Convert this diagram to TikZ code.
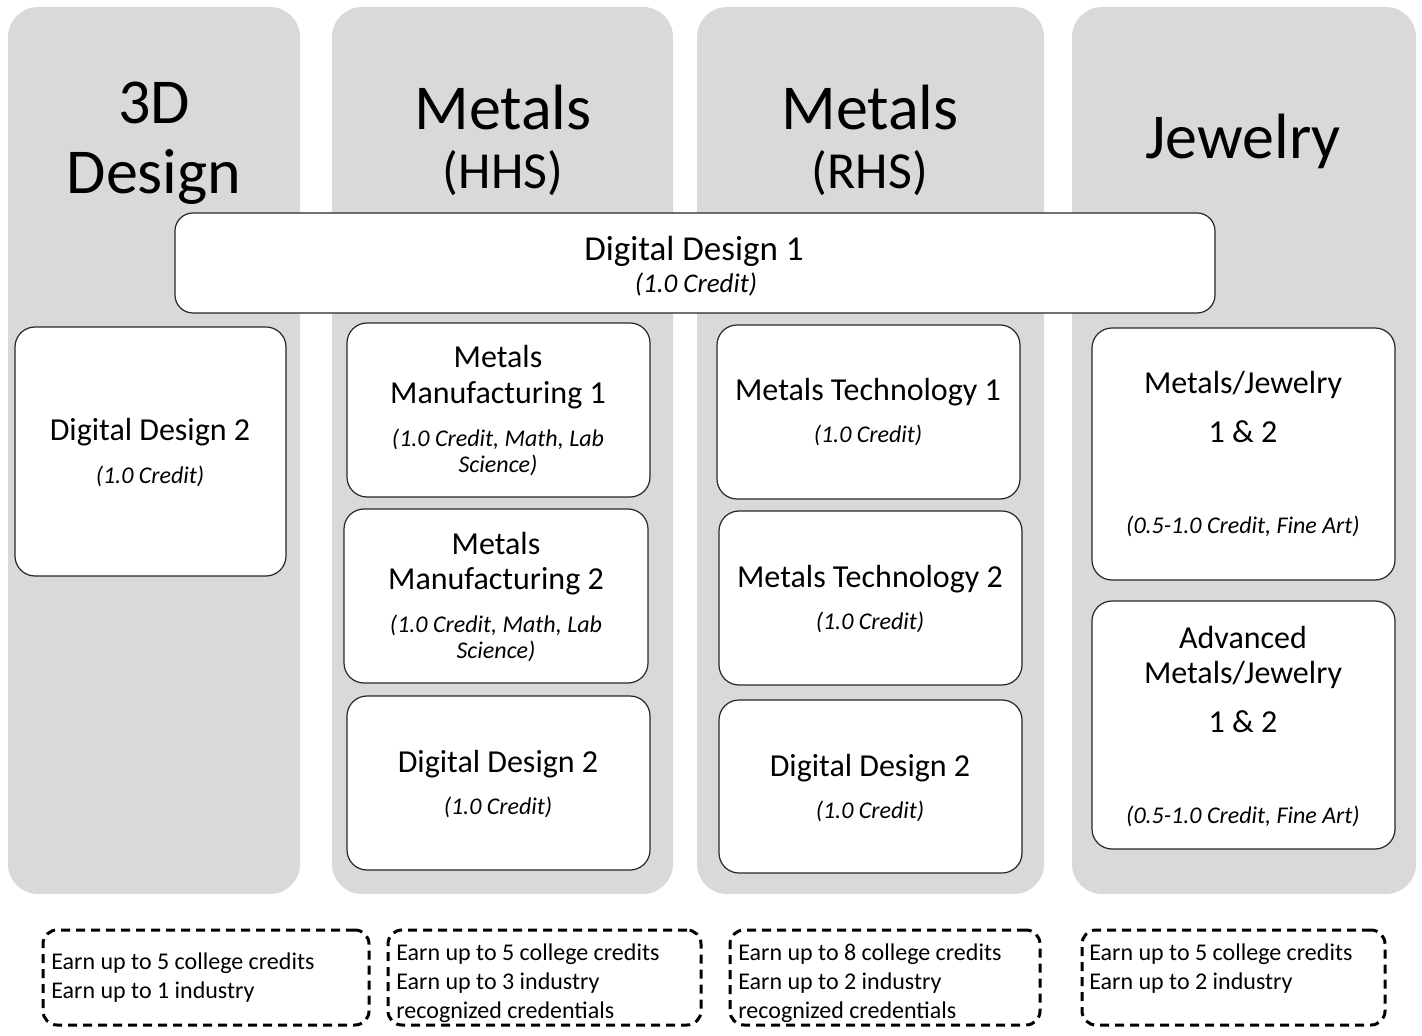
\documentclass[tikz,border=0pt]{standalone}
\usepackage{fontspec}
\setmainfont{Carlito}
\usetikzlibrary{fit}
\definecolor{colgray}{HTML}{D9D9D9}
\begin{document}
\begin{tikzpicture}[x=0.5pt,y=-0.5pt,
  col/.style={fill=colgray, draw=none, rounded corners=15pt, inner sep=0pt},
  box/.style={draw=black!85, fill=white, line width=0.6pt, rounded corners=10pt, inner sep=0pt},
  wbox/.style={draw=black!85, fill=white, line width=0.6pt, rounded corners=9pt, inner sep=0pt},
  dbox/.style={draw=black, line width=1.5pt, dash pattern=on 4.5pt off 3pt, rounded corners=7pt, inner sep=0pt},
  ttl/.style={font=\fontsize{32pt}{38pt}\selectfont, anchor=base, inner sep=0pt},
  ttls/.style={font=\fontsize{26pt}{31pt}\selectfont, anchor=base, inner sep=0pt},
  big/.style={font=\fontsize{17.5pt}{21pt}\selectfont, anchor=base, inner sep=0pt},
  bigit/.style={font=\fontsize{13.5pt}{16pt}\selectfont\itshape, anchor=base, inner sep=0pt},
  nm/.style={font=\fontsize{16pt}{19pt}\selectfont, anchor=base, inner sep=0pt},
  it/.style={font=\fontsize{12pt}{14pt}\selectfont\itshape, anchor=base, inner sep=0pt},
  note/.style={font=\fontsize{12pt}{14pt}\selectfont, anchor=base west, inner sep=0pt}
]
\useasboundingbox (0,0) rectangle (1422,1036);
% columns
\node[col, fit={(8,7) (300,894)}] (c1) {};
\node[col, fit={(332,7) (673,894)}] (c2) {};
\node[col, fit={(697,7) (1044,894)}] (c3) {};
\node[col, fit={(1072,7) (1416,894)}] (c4) {};
% titles
\node[ttl] (t1a) at (154,124) {3D};
\node[ttl] (t1b) at (154,194) {Design};
\node[ttl] (t2a) at (503,130) {Metals};
\node[ttls] (t2b) at (503,189) {(HHS)};
\node[ttl] (t3a) at (870,130) {Metals};
\node[ttls] (t3b) at (870,189) {(RHS)};
\node[ttl] (t4a) at (1243,159) {Jewelry};
% wide box
\node[wbox, fit={(175,213) (1215,313)}] (dd1) {};
\node[big] (dd1a) at (694,261) {Digital Design 1};
\node[bigit] (dd1b) at (696,293) {(1.0 Credit)};
% column 1
\node[box, fit={(15,327) (286,576)}] (b11) {};
\node[nm] (b11a) at (150,441) {Digital Design 2};
\node[it] (b11b) at (150,484) {(1.0 Credit)};
% column 2
\node[box, fit={(347,323) (650,497)}] (b21) {};
\node[nm] (b21a) at (498,368) {Metals};
\node[nm] (b21b) at (498,404) {Manufacturing 1};
\node[it] (b21c) at (498,447) {(1.0 Credit, Math, Lab};
\node[it] (b21d) at (498,473) {Science)};
\node[box, fit={(344,509) (648,683)}] (b22) {};
\node[nm] (b22a) at (496,554) {Metals};
\node[nm] (b22b) at (496,589) {Manufacturing 2};
\node[it] (b22c) at (496,632) {(1.0 Credit, Math, Lab};
\node[it] (b22d) at (496,658) {Science)};
\node[box, fit={(347,696) (650,870)}] (b23) {};
\node[nm] (b23a) at (498,772) {Digital Design 2};
\node[it] (b23b) at (498,814) {(1.0 Credit)};
% column 3
\node[box, fit={(717,325) (1020,499)}] (b31) {};
\node[nm] (b31a) at (868,401) {Metals Technology 1};
\node[it] (b31b) at (868,443) {(1.0 Credit)};
\node[box, fit={(719,511) (1022,685)}] (b32) {};
\node[nm] (b32a) at (870,587) {Metals Technology 2};
\node[it] (b32b) at (870,629) {(1.0 Credit)};
\node[box, fit={(719,700) (1022,873)}] (b33) {};
\node[nm] (b33a) at (870,776) {Digital Design 2};
\node[it] (b33b) at (870,818) {(1.0 Credit)};
% column 4
\node[box, fit={(1092,328) (1395,580)}] (b41) {};
\node[nm] (b41a) at (1243,394) {Metals/Jewelry};
\node[nm] (b41b) at (1243,443) {1 \& 2};
\node[it] (b41c) at (1243,534) {(0.5-1.0 Credit, Fine Art)};
\node[box, fit={(1092,601) (1395,849)}] (b42) {};
\node[nm] (b42a) at (1243,648) {Advanced};
\node[nm] (b42b) at (1243,683) {Metals/Jewelry};
\node[nm] (b42c) at (1243,732) {1 \& 2};
\node[it] (b42d) at (1243,823) {(0.5-1.0 Credit, Fine Art)};
% dashed notes
\node[dbox, fit={(43,930) (369,1025)}] (d1) {};
\node[note] (d1a) at (51,969) {Earn up to 5 college credits};
\node[note] (d1b) at (51,998) {Earn up to 1 industry};
\node[dbox, fit={(388,930) (701,1025)}] (d2) {};
\node[note] (d2a) at (396,960) {Earn up to 5 college credits};
\node[note] (d2b) at (396,989) {Earn up to 3 industry};
\node[note] (d2c) at (396,1018) {recognized credentials};
\node[dbox, fit={(730,930) (1040,1025)}] (d3) {};
\node[note] (d3a) at (738,960) {Earn up to 8 college credits};
\node[note] (d3b) at (738,989) {Earn up to 2 industry};
\node[note] (d3c) at (738,1018) {recognized credentials};
\node[dbox, fit={(1082,930) (1385,1025)}] (d4) {};
\node[note] (d4a) at (1089,960) {Earn up to 5 college credits};
\node[note] (d4b) at (1089,989) {Earn up to 2 industry};
\end{tikzpicture}
\end{document}
